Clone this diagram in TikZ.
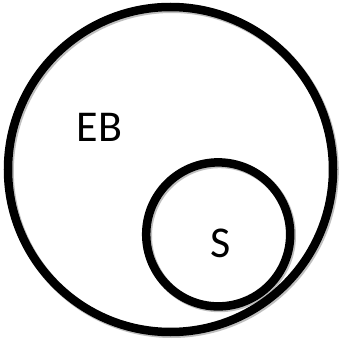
\documentclass[tikz,border=0pt]{standalone}
\usepackage{fontspec}
\setmainfont{Carlito}
\begin{document}
\begin{tikzpicture}[x=1pt,y=-1pt,
  ring/.style={draw=black,line width=8.5pt,circle},
  shade/.style={draw=black!25,line width=9pt,circle},
  lbl/.style={font=\fontsize{44}{48}\selectfont,inner sep=0pt}]
\useasboundingbox (0,0) rectangle (343,342);
\fill[white] (0,0) rectangle (343,342);
\node[shade,minimum size=325pt] (ebshadow) at (171.8,171) {};
\node[shade,minimum size=144pt] (sshadow) at (219.5,235.7) {};
\node[ring,minimum size=325pt] (eb) at (170.5,169.5) {};
\node[ring,minimum size=144pt] (s) at (218.2,234.4) {};
\node[lbl,anchor=base] (ebl) at (99.5,142) {EB};
\node[lbl,anchor=base] (sl) at (220.5,257) {S};
\end{tikzpicture}
\end{document}
